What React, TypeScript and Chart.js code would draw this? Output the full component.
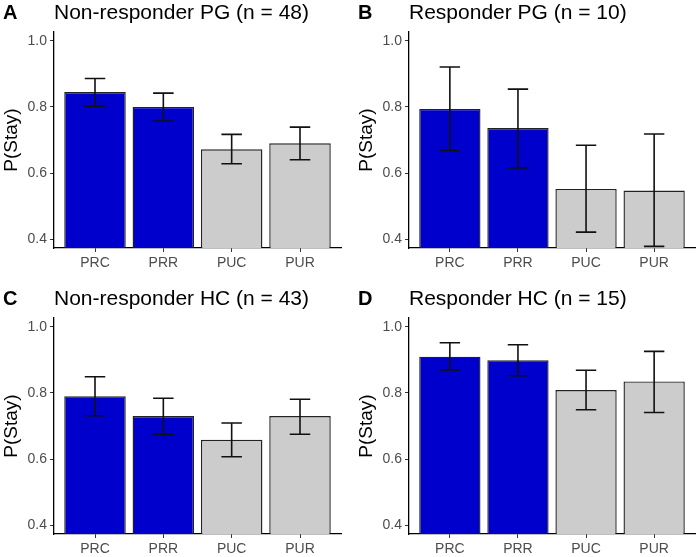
import React, { useEffect, useRef } from "react";
import { Chart, registerables } from "chart.js";

Chart.register(...registerables);

const categories = ["PRC", "PRR", "PUC", "PUR"];
const yTicks = [0.4, 0.6, 0.8, 1.0];
const barColors = ["#0000CD", "#0000CD", "#CCCCCC", "#CCCCCC"];

const titleA = "Non-responder PG (n = 48)";
const valuesA = [0.845, 0.8, 0.672, 0.69];
const lowA = [0.802, 0.757, 0.628, 0.64];
const highA = [0.886, 0.842, 0.717, 0.739];

const titleB = "Responder PG (n = 10)";
const valuesB = [0.794, 0.736, 0.552, 0.547];
const lowB = [0.668, 0.615, 0.421, 0.378];
const highB = [0.921, 0.854, 0.684, 0.718];

const titleC = "Non-responder HC (n = 43)";
const valuesC = [0.79, 0.73, 0.658, 0.73];
const lowC = [0.731, 0.674, 0.607, 0.675];
const highC = [0.849, 0.784, 0.709, 0.781];

const titleD = "Responder HC (n = 15)";
const valuesD = [0.91, 0.899, 0.809, 0.835];
const lowD = [0.87, 0.852, 0.749, 0.741];
const highD = [0.952, 0.946, 0.869, 0.926];

const FONT = "'Liberation Sans', Arial, Helvetica, sans-serif";

type PanelProps = {
  letter: string;
  title: string;
  values: number[];
  low: number[];
  high: number[];
  left: number;
  top: number;
  padLeft: number;
  padRight: number;
};

const W = 349;
const H = 271;

function Panel(p: PanelProps) {
  const ref = useRef<HTMLCanvasElement | null>(null);
  useEffect(() => {
    if (!ref.current) return;
    const errorBars = {
      id: "errorBars",
      afterDatasetsDraw(chart: any) {
        const xs = chart.scales.x;
        const ys = chart.scales.y;
        const ctx = chart.ctx;
        ctx.save();
        ctx.strokeStyle = "#111";
        ctx.lineWidth = 1.6;
        p.values.forEach((_, i) => {
          const x = xs.getPixelForValue(i + 1);
          const half = xs.getPixelForValue(i + 1.15) - x;
          const y1 = ys.getPixelForValue(p.low[i]);
          const y2 = ys.getPixelForValue(p.high[i]);
          ctx.beginPath();
          ctx.moveTo(x, y1);
          ctx.lineTo(x, y2);
          ctx.moveTo(x - half, y1);
          ctx.lineTo(x + half, y1);
          ctx.moveTo(x - half, y2);
          ctx.lineTo(x + half, y2);
          ctx.stroke();
        });
        ctx.restore();
      },
    };
    const panelTitle = {
      id: "panelTitle",
      afterDraw(chart: any) {
        const ctx = chart.ctx;
        ctx.save();
        ctx.fillStyle = "#000";
        ctx.textBaseline = "alphabetic";
        ctx.textAlign = "left";
        ctx.font = `bold 20px ${FONT}`;
        ctx.fillText(p.letter, p.padLeft + 3, 19);
        ctx.font = `21px ${FONT}`;
        ctx.fillText(p.title, chart.chartArea.left, 19);
        ctx.restore();
      },
    };
    const chart = new Chart(ref.current, {
      type: "bar",
      data: {
        datasets: [
          {
            data: p.values.map((v, i) => ({ x: i + 1, y: v })),
            backgroundColor: barColors,
            borderColor: "#222",
            borderWidth: 1.4,
            borderSkipped: "start",
            categoryPercentage: 1,
            barPercentage: 0.9,
          } as any,
        ],
      },
      options: {
        animation: false,
        responsive: false,
        layout: { padding: { top: 32, left: p.padLeft, right: p.padRight, bottom: 0 } },
        plugins: {
          legend: { display: false },
          tooltip: { enabled: false },
          title: { display: false },
        },
        scales: {
          x: {
            type: "linear",
            min: 0.4,
            max: 4.6,
            offset: false,
            afterBuildTicks: (scale: any) => {
              scale.ticks = categories.map((_, i) => ({ value: i + 1 }));
            },
            afterFit: (scale: any) => {
              scale.height = 23;
            },
            ticks: {
              callback: (v: any) => categories[Math.round(Number(v)) - 1],
              color: "#4d4d4d",
              font: { size: 14, family: FONT },
              padding: 3,
              maxRotation: 0,
              autoSkip: false,
            },
            grid: {
              display: true,
              offset: false,
              drawOnChartArea: false,
              drawTicks: true,
              tickLength: 4,
              color: "#333",
              lineWidth: 1,
            },
            border: { display: true, color: "#000", width: 1.3 },
          },
          y: {
            type: "linear",
            min: 0.373,
            max: 1.027,
            afterBuildTicks: (scale: any) => {
              scale.ticks = yTicks.map((v) => ({ value: v }));
            },
            afterFit: (scale: any) => {
              scale.width = 54;
            },
            ticks: {
              callback: (v: any) => Number(v).toFixed(1),
              color: "#4d4d4d",
              font: { size: 14, family: FONT },
              padding: 3,
            },
            grid: {
              display: true,
              drawOnChartArea: false,
              drawTicks: true,
              tickLength: 4,
              color: "#333",
              lineWidth: 1,
            },
            border: { display: true, color: "#000", width: 1.3 },
            title: {
              display: true,
              text: "P(Stay)",
              color: "#000",
              font: { size: 19, family: FONT, lineHeight: 1.2 },
              padding: { top: 0, bottom: 0 },
            },
          },
        },
      },
      plugins: [errorBars, panelTitle],
    });
    return () => chart.destroy();
  }, []);
  return (
    <canvas
      ref={ref}
      width={W}
      height={H}
      style={{ position: "absolute", left: p.left, top: p.top, width: W, height: H, display: "block" }}
    />
  );
}

export default function App() {
  return (
    <div
      style={{
        position: "absolute",
        left: 0,
        top: 0,
        width: 699,
        height: 557,
        background: "#fff",
        overflow: "hidden",
      }}
    >
      <Panel letter="A" title={titleA} values={valuesA} low={lowA} high={highA} left={0} top={0} padLeft={0} padRight={8} />
      <Panel letter="B" title={titleB} values={valuesB} low={lowB} high={highB} left={350} top={0} padLeft={5} padRight={4} />
      <Panel letter="C" title={titleC} values={valuesC} low={lowC} high={highC} left={0} top={286} padLeft={0} padRight={8} />
      <Panel letter="D" title={titleD} values={valuesD} low={lowD} high={highD} left={350} top={286} padLeft={5} padRight={4} />
    </div>
  );
}
